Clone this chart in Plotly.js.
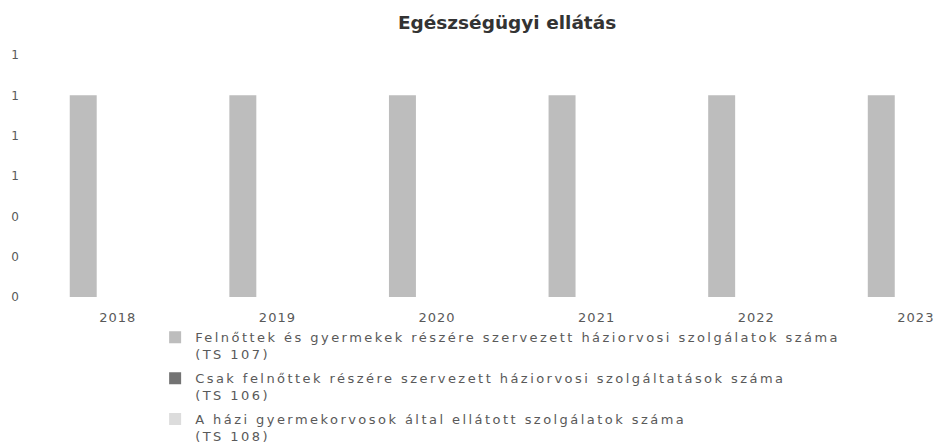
<!DOCTYPE html>
<html>
<head>
<meta charset="utf-8">
<script src="https://cdn.plot.ly/plotly-3.0.1.min.js"></script>
<style>
html,body{margin:0;padding:0;background:#fff;}
#chart{width:939px;height:447px;}
.legendtext{letter-spacing:2.45px;}
#chart .xtick text{letter-spacing:1px;}
</style>
</head>
<body>
<div id="chart"></div>
<script>
const years = ['2018', '2019', '2020', '2021', '2022', '2023'];
const seriesNames = [
  'Felnőttek és gyermekek részére szervezett háziorvosi szolgálatok száma<br>(TS 107)',
  'Csak felnőttek részére szervezett háziorvosi szolgáltatások száma<br>(TS 106)',
  'A házi gyermekorvosok által ellátott szolgálatok száma<br>(TS 108)'
];
const ts107 = [1, 1, 1, 1, 1, 1];
const ts106 = [0, 0, 0, 0, 0, 0];
const ts108 = [0, 0, 0, 0, 0, 0];
const colors = ['#bdbdbd', '#737373', '#dcdcdc'];

const values = [ts107, ts106, ts108];
const traces = values.map((v, i) => ({
  type: 'bar',
  x: years,
  y: v,
  name: seriesNames[i],
  legendgroup: 'g' + i,
  marker: {color: colors[i]},
  hoverinfo: 'skip'
}));

const layout = {
  width: 939, height: 447,
  margin: {l: 38, r: 0, t: 55, b: 150, autoexpand: false},
  paper_bgcolor: '#fff', plot_bgcolor: '#fff',
  font: {family: '"DejaVu Sans", sans-serif', color: '#595959', size: 13},
  title: {text: '<b>Egészségügyi ellátás</b>', x: 0.54, xanchor: 'center', y: 0.95, yanchor: 'middle',
          font: {size: 18.5, color: '#333333', family: '"DejaVu Sans", sans-serif'}},
  barmode: 'group', bargap: 0.35, bargroupgap: 0.22,
  xaxis: {type: 'category', range: [-0.5, 5.145], showgrid: false, zeroline: false, showline: false,
          ticks: '', tickfont: {size: 13, color: '#595959'}, ticklabelstandoff: 11},
  yaxis: {range: [0, 1.2], dtick: 0.2, tickformat: '.0f', showgrid: false, zeroline: false, showline: false,
          ticks: '', tickfont: {size: 12, color: '#595959'}, ticklabelstandoff: 18},
  showlegend: true,
  legend: {orientation: 'v', x: 0.13, xanchor: 'left', y: -0.105, yanchor: 'top', valign: 'top',
           font: {size: 13, color: '#595959'}, itemwidth: 30, tracegroupgap: 4, traceorder: 'grouped',
           bgcolor: 'rgba(0,0,0,0)'}
};

Plotly.newPlot('chart', traces, layout, {displayModeBar: false, staticPlot: true});
</script>
</body>
</html>
